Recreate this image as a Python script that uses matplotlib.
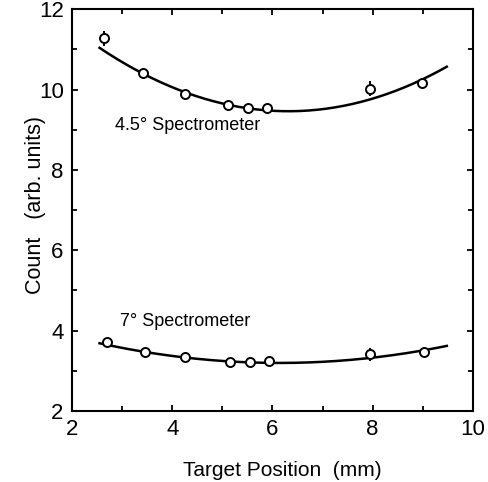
import numpy as np
import matplotlib.pyplot as plt
from matplotlib.ticker import MultipleLocator

plt.rcParams['font.family'] = ['Liberation Sans', 'DejaVu Sans']

# 4.5 degree spectrometer
x_45 = [2.64, 3.41, 4.25, 5.11, 5.51, 5.90, 7.94, 8.99]
y_45 = [11.27, 10.40, 9.88, 9.61, 9.54, 9.53, 10.02, 10.15]
err_45 = [0.19, 0.0, 0.0, 0.0, 0.0, 0.0, 0.19, 0.0]
# fitted parabola: a*(x - x0)**2 + y0
fit_45 = (0.111, 6.32, 9.46)

# 7 degree spectrometer
x_7 = [2.69, 3.46, 4.25, 5.15, 5.55, 5.93, 7.95, 9.03]
y_7 = [3.72, 3.47, 3.35, 3.23, 3.23, 3.25, 3.41, 3.48]
err_7 = [0.0, 0.0, 0.0, 0.0, 0.0, 0.0, 0.17, 0.0]
fit_7 = (0.038, 6.14, 3.196)

fit_range = (2.55, 9.48)


def draw_plot():
  fig = plt.figure(figsize=(4.88, 4.82), dpi=100)
  ax = fig.add_axes([0.1475, 0.1473, 0.8215, 0.8337])

  xs = np.linspace(fit_range[0], fit_range[1], 200)
  for xd, yd, ed, (a, x0, y0) in [(x_45, y_45, err_45, fit_45),
                                  (x_7, y_7, err_7, fit_7)]:
    ax.plot(xs, a * (xs - x0) ** 2 + y0, color='black', lw=1.8, zorder=2)
    ax.errorbar(xd, yd, yerr=ed, fmt='o', ms=6.5, mfc='white', mec='black',
                mew=1.4, ecolor='black', elinewidth=1.4, capsize=0, zorder=3)

  ax.text(2.86, 9.11, '4.5° Spectrometer', fontsize=13, va='center')
  ax.text(2.95, 4.22, '7° Spectrometer', fontsize=13, va='center')

  ax.set_xlim(2, 10)
  ax.set_ylim(2, 12)
  ax.xaxis.set_major_locator(MultipleLocator(2))
  ax.xaxis.set_minor_locator(MultipleLocator(1))
  ax.yaxis.set_major_locator(MultipleLocator(2))
  ax.yaxis.set_minor_locator(MultipleLocator(1))
  ax.tick_params(which='both', direction='in', top=True, right=True,
                 width=1.3, labelsize=16)
  ax.tick_params(which='major', length=4.5, pad=6)
  ax.tick_params(which='minor', length=3.5)
  for s in ax.spines.values():
    s.set_linewidth(1.5)

  ax.set_xlabel('Target Position  (mm)', fontsize=15, va='center')
  ax.set_ylabel('Count   (arb. units)', fontsize=15.5, va='center')
  ax.xaxis.set_label_coords(0.524, -0.147)
  ax.yaxis.set_label_coords(-0.092, 0.512)

  fig.savefig('out.png', dpi=100)


draw_plot()
